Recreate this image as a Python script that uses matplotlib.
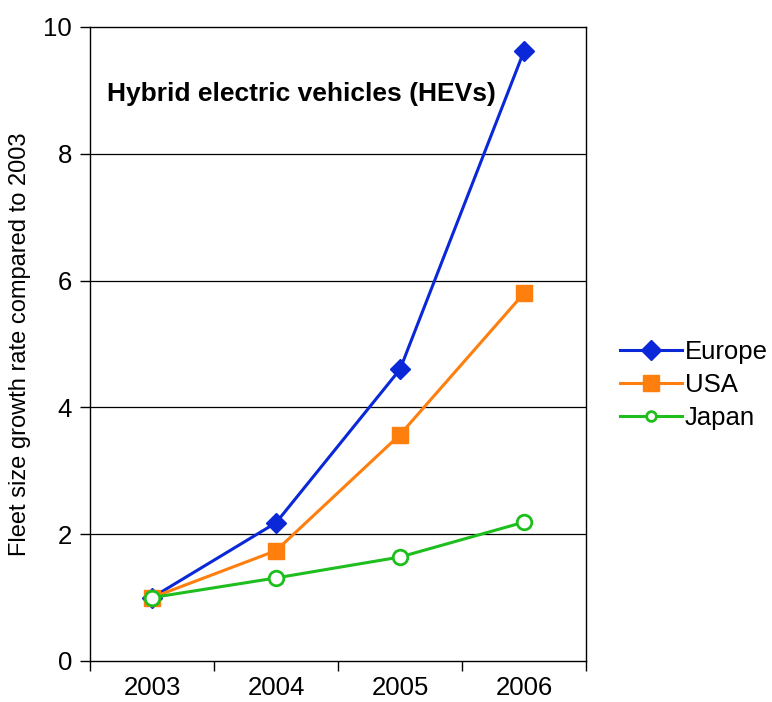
import numpy as np
import matplotlib
matplotlib.use("Agg")
import matplotlib.pyplot as plt
from matplotlib.lines import Line2D

plt.rcParams["font.family"] = ["Liberation Sans", "DejaVu Sans"]

years = ["2003", "2004", "2005", "2006"]
europe = [1.0, 2.18, 4.60, 9.62]
usa = [1.0, 1.74, 3.57, 5.80]
japan = [1.0, 1.31, 1.64, 2.19]

BLUE = "#0A28D8"
ORANGE = "#FF7F0E"
GREEN = "#1EBE1E"

fig = plt.figure(figsize=(7.72, 7.02), dpi=100)
ax = fig.add_axes([90 / 772, 41 / 702, 496 / 772, 634 / 702])

x = np.arange(len(years))
ax.plot(x, europe, color=BLUE, lw=2.2, marker="D", ms=10,
        mec=BLUE, mfc=BLUE, zorder=3)
ax.plot(x, usa, color=ORANGE, lw=2.2, marker="s", ms=12,
        mec=ORANGE, mfc=ORANGE, zorder=4)
ax.plot(x, japan, color=GREEN, lw=2.2, marker="o", ms=10.5,
        mec=GREEN, mfc="white", mew=2, zorder=5)

ax.set_xlim(-0.5, len(years) - 0.5)
ax.set_ylim(0, 10)
ax.set_yticks([0, 2, 4, 6, 8, 10])
ax.set_xticks(x)
ax.set_xticklabels(years)
ax.set_xticks(np.arange(-0.5, len(years), 1.0), minor=True)
ax.tick_params(axis="x", which="major", length=0, pad=11, labelsize=18.5)
ax.tick_params(axis="x", which="minor", length=7, width=1, direction="out")
ax.tick_params(axis="y", length=7, width=1, direction="out", pad=6, labelsize=18.5)

for yv in [2, 4, 6, 8]:
    ax.axhline(yv, color="black", lw=0.9, zorder=1)
for s in ax.spines.values():
    s.set_linewidth(1.0)

ax.set_ylabel("Fleet size growth rate compared to 2003", fontsize=17, labelpad=9)
ax.text(0.035, 0.895, "Hybrid electric vehicles (HEVs)", transform=ax.transAxes,
        fontsize=19, fontweight="bold", va="center", ha="left")

# legend proxies: the Japan marker is drawn smaller in the legend
handles = [
    Line2D([], [], color=BLUE, lw=2.2, marker="D", ms=10, mfc=BLUE, mec=BLUE),
    Line2D([], [], color=ORANGE, lw=2.2, marker="s", ms=12, mfc=ORANGE, mec=ORANGE),
    Line2D([], [], color=GREEN, lw=2.2, marker="o", ms=7, mfc="white", mec=GREEN, mew=2),
]
fig.legend(handles, ["Europe", "USA", "Japan"], loc="center left",
           bbox_to_anchor=(610 / 772, 1 - 385 / 702),
           frameon=False, fontsize=18.5, handlelength=2.4, handletextpad=0.1,
           labelspacing=0.35, borderaxespad=0)

fig.savefig("out.png", dpi=100)
